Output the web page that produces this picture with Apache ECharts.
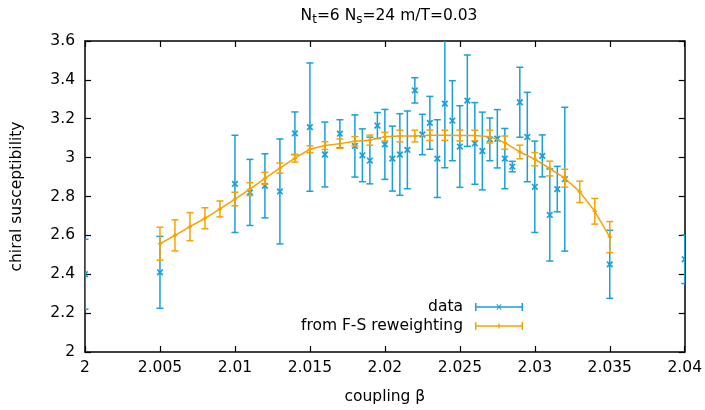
<!DOCTYPE html>
<html>
<head>
<meta charset="utf-8">
<script src="https://cdn.jsdelivr.net/npm/echarts@6/dist/echarts.min.js"></script>
<style>html,body{margin:0;padding:0;background:#fff}#c{width:705px;height:410px}</style>
</head>
<body>
<div id="c"></div>
<script>
// measured data
var betaData = [2.000, 2.005, 2.010, 2.011, 2.012, 2.013, 2.014, 2.015, 2.016, 2.017, 2.018, 2.0185, 2.019, 2.0195, 2.020, 2.0205, 2.021, 2.0215, 2.022, 2.0225, 2.023, 2.0235, 2.024, 2.0245, 2.025, 2.0255, 2.026, 2.0265, 2.027, 2.0275, 2.028, 2.0285, 2.029, 2.0295, 2.030, 2.0305, 2.031, 2.0315, 2.032, 2.035, 2.040];
var chiData = [2.40, 2.41, 2.865, 2.821, 2.855, 2.826, 3.125, 3.157, 3.016, 3.123, 3.06, 3.012, 2.985, 3.165, 3.068, 2.995, 3.016, 3.04, 3.346, 3.119, 3.179, 2.995, 3.278, 3.19, 3.057, 3.293, 3.073, 3.034, 3.094, 3.097, 2.995, 2.954, 3.285, 3.106, 2.85, 3.009, 2.705, 2.838, 2.889, 2.451, 2.477];
var errData = [0.18, 0.185, 0.25, 0.17, 0.165, 0.27, 0.11, 0.33, 0.167, 0.072, 0.16, 0.136, 0.12, 0.067, 0.18, 0.167, 0.21, 0.2, 0.065, 0.104, 0.136, 0.2, 0.33, 0.206, 0.21, 0.235, 0.21, 0.2, 0.11, 0.15, 0.155, 0.027, 0.18, 0.23, 0.235, 0.108, 0.237, 0.117, 0.37, 0.175, 0.125];

var rwBeta = [2.005, 2.006, 2.007, 2.008, 2.009, 2.010, 2.011, 2.012, 2.013, 2.014, 2.015, 2.016, 2.017, 2.018, 2.019, 2.020, 2.021, 2.022, 2.023, 2.024, 2.025, 2.026, 2.027, 2.028, 2.029, 2.030, 2.031, 2.032, 2.033, 2.034, 2.035];
var rwChi = [2.557, 2.600, 2.645, 2.688, 2.736, 2.787, 2.838, 2.893, 2.946, 2.997, 3.043, 3.062, 3.072, 3.084, 3.090, 3.108, 3.111, 3.111, 3.115, 3.115, 3.114, 3.114, 3.108, 3.077, 3.029, 2.992, 2.944, 2.894, 2.824, 2.724, 2.591];
var rwErr = [0.085, 0.08, 0.072, 0.054, 0.041, 0.035, 0.033, 0.031, 0.026, 0.02, 0.018, 0.02, 0.024, 0.024, 0.026, 0.022, 0.03, 0.03, 0.027, 0.026, 0.028, 0.027, 0.033, 0.034, 0.035, 0.034, 0.038, 0.046, 0.055, 0.066, 0.08];

var xTicks = {min: 2, max: 2.04, step: 0.005};
var yTicks = {min: 2, max: 3.6, step: 0.2};

var BLUE = '#1a9fd9';
var ORANGE = '#f5a300';
var FONT = 'DejaVu Sans';
var FS = 15.5;

function zip3(a, b, c) { return a.map(function (v, i) { return [v, b[i], c[i]]; }); }

function errRender(color, marker) {
  return function (params, api) {
    var x = api.value(0), y = api.value(1), e = api.value(2);
    var p = api.coord([x, y]);
    var lo = api.coord([x, y - e]);
    var hi = api.coord([x, y + e]);
    var cw = 3.5, st = {stroke: color, lineWidth: 1.5};
    var ch = [
      {type: 'line', shape: {x1: p[0], y1: hi[1], x2: p[0], y2: lo[1]}, style: st},
      {type: 'line', shape: {x1: p[0] - cw, y1: hi[1], x2: p[0] + cw, y2: hi[1]}, style: st},
      {type: 'line', shape: {x1: p[0] - cw, y1: lo[1], x2: p[0] + cw, y2: lo[1]}, style: st}
    ];
    if (marker === 'x') {
      var m = 2.8;
      var sx = {stroke: color, lineWidth: 1.7};
      ch.push({type: 'line', shape: {x1: p[0] - m, y1: p[1] - m, x2: p[0] + m, y2: p[1] + m}, style: sx});
      ch.push({type: 'line', shape: {x1: p[0] - m, y1: p[1] + m, x2: p[0] + m, y2: p[1] - m}, style: sx});
    } else {
      var n = 2.2;
      ch.push({type: 'line', shape: {x1: p[0] - n, y1: p[1], x2: p[0] + n, y2: p[1]}, style: st});
      ch.push({type: 'line', shape: {x1: p[0], y1: p[1] - n, x2: p[0], y2: p[1] + n}, style: st});
    }
    return {type: 'group', children: ch};
  };
}

var iconBase = 'M0 3.3H48V4.7H0Z M0 0H1.5V8H0Z M46.5 0H48V8H46.5Z';
var iconData = 'path://' + iconBase + ' M21.3 1.3L22.5 1.3L26.7 6.7L25.5 6.7Z M25.5 1.3L26.7 1.3L22.5 6.7L21.3 6.7Z';
var iconRw = 'path://' + iconBase + ' M23.3 1.5H24.7V6.5H23.3Z';

var chart = echarts.init(document.getElementById('c'), null, {renderer: 'canvas'});
var axisCommon = {
  type: 'value',
  axisLine: {show: true, lineStyle: {color: '#000', width: 1.5}},
  axisTick: {show: true, inside: true, length: 6, lineStyle: {color: '#000', width: 1.2}},
  splitLine: {show: false}
};
chart.setOption({
  animation: false,
  backgroundColor: '#fff',
  textStyle: {fontFamily: FONT},
  title: {
    text: 'N{sub|t}=6 N{sub|s}=24 m/T=0.03',
    left: 384, top: 0, textAlign: 'center',
    textStyle: {
      fontFamily: FONT, fontSize: FS, fontWeight: 'normal', color: '#000',
      rich: {sub: {fontFamily: FONT, fontSize: 12, color: '#000', verticalAlign: 'bottom', padding: [9, 0, 0, 0]}}
    }
  },
  grid: {left: 85, right: 20, top: 41, bottom: 56, containLabel: false},
  legend: {
    orient: 'vertical', right: 177, top: 294, itemWidth: 48, itemHeight: 8, itemGap: 3,
    align: 'right', selectedMode: false,
    textStyle: {fontFamily: FONT, fontSize: FS, lineHeight: 16, color: '#000', padding: [0, 7, 0, 0]},
    data: [
      {name: 'data', icon: iconData, itemStyle: {color: BLUE}},
      {name: 'from F-S reweighting', icon: iconRw, itemStyle: {color: ORANGE}}
    ]
  },
  xAxis: [
    Object.assign({}, axisCommon, {
      position: 'bottom', min: xTicks.min, max: xTicks.max, interval: xTicks.step,
      axisLabel: {fontFamily: FONT, fontSize: FS, color: '#000', margin: 8},
      name: 'coupling β', nameLocation: 'middle', nameGap: 37,
      nameTextStyle: {fontFamily: FONT, fontSize: FS, color: '#000'}
    }),
    Object.assign({}, axisCommon, {
      position: 'top', min: xTicks.min, max: xTicks.max, interval: xTicks.step,
      axisLabel: {show: false}
    })
  ],
  yAxis: [
    Object.assign({}, axisCommon, {
      position: 'left', min: yTicks.min, max: yTicks.max, interval: yTicks.step,
      axisLabel: {fontFamily: FONT, fontSize: FS, color: '#000', margin: 10},
      name: 'chiral susceptibility', nameLocation: 'middle', nameGap: 60,
      nameTextStyle: {fontFamily: FONT, fontSize: FS, color: '#000'}
    }),
    Object.assign({}, axisCommon, {
      position: 'right', min: yTicks.min, max: yTicks.max, interval: yTicks.step,
      axisLabel: {show: false}
    })
  ],
  series: [
    {
      name: 'data', type: 'custom', clip: true, z: 2,
      itemStyle: {color: BLUE},
      renderItem: errRender(BLUE, 'x'),
      encode: {x: 0, y: 1},
      data: zip3(betaData, chiData, errData)
    },
    {
      name: 'from F-S reweighting', type: 'line', z: 3,
      showSymbol: false, symbol: 'none',
      lineStyle: {color: ORANGE, width: 1.5},
      itemStyle: {color: ORANGE},
      data: rwBeta.map(function (b, i) { return [b, rwChi[i]]; })
    },
    {
      name: 'from F-S reweighting', type: 'custom', clip: true, z: 4,
      itemStyle: {color: ORANGE},
      renderItem: errRender(ORANGE, '+'),
      encode: {x: 0, y: 1},
      data: zip3(rwBeta, rwChi, rwErr)
    }
  ]
});
</script>
</body>
</html>
